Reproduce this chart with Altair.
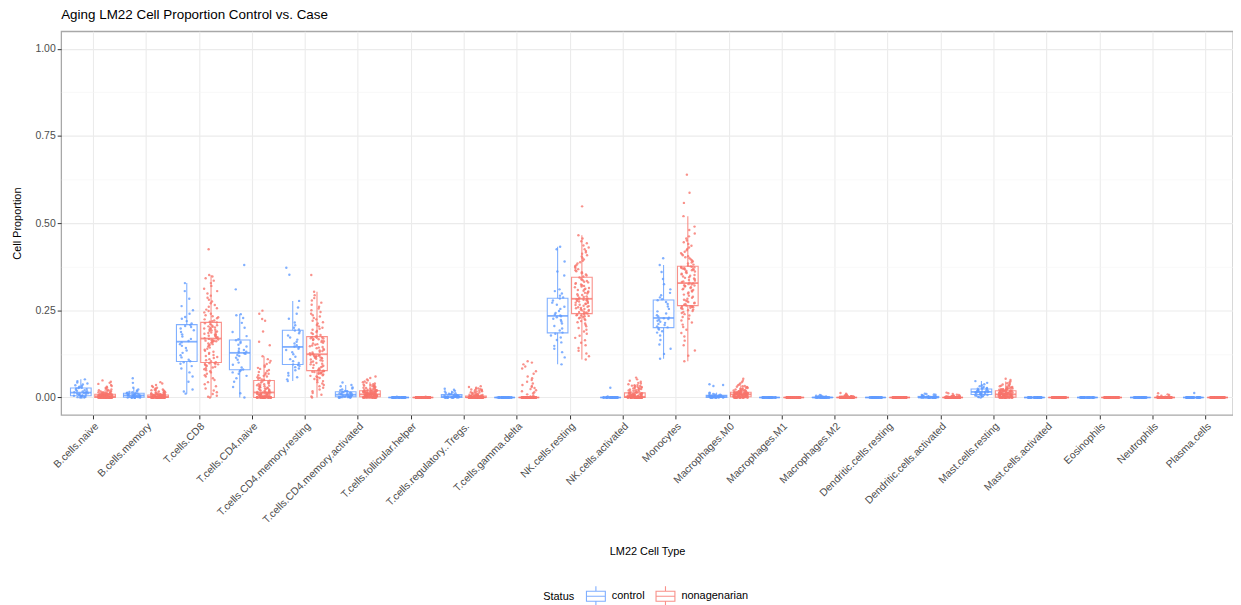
import altair as alt
import pandas as pd

# ---------------- data ----------------
cell_types = ["B.cells.naive", "B.cells.memory", "T.cells.CD8", "T.cells.CD4.naive",
              "T.cells.CD4.memory.resting", "T.cells.CD4.memory.activated",
              "T.cells.follicular.helper", "T.cells.regulatory..Tregs.", "T.cells.gamma.delta",
              "NK.cells.resting", "NK.cells.activated", "Monocytes", "Macrophages.M0",
              "Macrophages.M1", "Macrophages.M2", "Dendritic.cells.resting",
              "Dendritic.cells.activated", "Mast.cells.resting", "Mast.cells.activated",
              "Eosinophils", "Neutrophils", "Plasma.cells"]
statuses = ["control", "nonagenarian"]
status_colors = ["#619CFF", "#F8766D"]

# ---- control samples (40 per cell type) ----
ctl_b_naive = [0, 0, 0, 0.001, 0.002, 0.002, 0.003, 0.004, 0.004, 0.005,
               0.005, 0.006, 0.007, 0.008, 0.009, 0.010, 0.011, 0.012, 0.013, 0.014,
               0.014, 0.015, 0.017, 0.018, 0.019, 0.021, 0.022, 0.024, 0.026, 0.027,
               0.028, 0.029, 0.031, 0.033, 0.035, 0.037, 0.040, 0.043, 0.047, 0.052]
ctl_b_memory = [0.0] * 10 + [0.001, 0.001, 0.002, 0.003, 0.003, 0.004, 0.004, 0.005, 0.005, 0.006,
                             0.006, 0.007, 0.007, 0.008, 0.008, 0.009, 0.010, 0.010, 0.011, 0.012,
                             0.013, 0.014, 0.015, 0.016, 0.018, 0.020, 0.023, 0.028, 0.042, 0.055]
ctl_cd8 = [0.011, 0.017, 0.023, 0.045, 0.060, 0.072, 0.083, 0.090, 0.097, 0.101,
           0.104, 0.108, 0.115, 0.121, 0.128, 0.135, 0.142, 0.148, 0.153, 0.158,
           0.162, 0.168, 0.175, 0.181, 0.188, 0.193, 0.198, 0.202, 0.205, 0.208,
           0.212, 0.219, 0.226, 0.231, 0.240, 0.250, 0.262, 0.283, 0.305, 0.328]
ctl_cd4_naive = [0, 0.012, 0.030, 0.045, 0.055, 0.062, 0.068, 0.072, 0.075, 0.078,
                 0.080, 0.086, 0.094, 0.100, 0.108, 0.114, 0.119, 0.122, 0.125, 0.127,
                 0.129, 0.131, 0.133, 0.136, 0.140, 0.146, 0.151, 0.156, 0.160, 0.164,
                 0.167, 0.176, 0.188, 0.200, 0.214, 0.228, 0.236, 0.239, 0.310, 0.380]
ctl_cd4_mem_rest = [0.047, 0.052, 0.058, 0.063, 0.070, 0.078, 0.083, 0.087, 0.090, 0.093,
                    0.095, 0.099, 0.104, 0.110, 0.117, 0.124, 0.130, 0.136, 0.140, 0.144,
                    0.146, 0.150, 0.155, 0.160, 0.166, 0.172, 0.178, 0.184, 0.189, 0.192,
                    0.195, 0.200, 0.207, 0.215, 0.226, 0.240, 0.258, 0.277, 0.352, 0.372]
ctl_cd4_mem_act = [0, 0, 0, 0, 0, 0.001, 0.001, 0.001, 0.002, 0.002,
                   0.002, 0.003, 0.004, 0.004, 0.005, 0.005, 0.006, 0.006, 0.007, 0.008,
                   0.008, 0.009, 0.010, 0.011, 0.012, 0.012, 0.013, 0.014, 0.015, 0.016,
                   0.017, 0.018, 0.019, 0.021, 0.023, 0.026, 0.029, 0.032, 0.036, 0.043]
ctl_tfh = [0.0] * 38 + [0.001, 0.002]
ctl_tregs = [0.0] * 14 + [0.001, 0.001, 0.002, 0.002, 0.002, 0.003, 0.003, 0.003, 0.004, 0.004,
                          0.005, 0.005, 0.006, 0.006, 0.007, 0.008, 0.009, 0.010, 0.011, 0.012,
                          0.013, 0.015, 0.017, 0.019, 0.022, 0.025]
ctl_gd = [0.0] * 40
ctl_nk_rest = [0.095, 0.115, 0.130, 0.140, 0.148, 0.158, 0.165, 0.172, 0.178, 0.183,
               0.186, 0.192, 0.198, 0.205, 0.212, 0.218, 0.222, 0.226, 0.230, 0.233,
               0.235, 0.238, 0.242, 0.248, 0.254, 0.260, 0.266, 0.272, 0.278, 0.284,
               0.287, 0.292, 0.298, 0.305, 0.310, 0.350, 0.361, 0.390, 0.425, 0.432]
ctl_nk_act = [0.0] * 38 + [0.003, 0.028]
ctl_mono = [0.111, 0.125, 0.140, 0.152, 0.165, 0.178, 0.186, 0.190, 0.195, 0.198,
            0.201, 0.204, 0.208, 0.211, 0.214, 0.217, 0.220, 0.223, 0.225, 0.227,
            0.229, 0.232, 0.236, 0.241, 0.247, 0.254, 0.261, 0.268, 0.274, 0.279,
            0.282, 0.287, 0.293, 0.300, 0.310, 0.325, 0.340, 0.360, 0.380, 0.399]
ctl_m0 = [0.0] * 12 + [0.001, 0.001, 0.001, 0.002, 0.002, 0.002, 0.002, 0.003, 0.003, 0.003,
                       0.003, 0.004, 0.004, 0.004, 0.005, 0.005, 0.005, 0.006, 0.006, 0.007,
                       0.008, 0.009, 0.010, 0.012, 0.014, 0.033, 0.036, 0.038]
ctl_m1 = [0.0] * 40
ctl_m2 = [0.0] * 30 + [0.001, 0.001, 0.002, 0.002, 0.003, 0.003, 0.004, 0.005, 0.006, 0.007]
ctl_dc_rest = [0.0] * 40
ctl_dc_act = [0.0] * 24 + [0.001, 0.001, 0.002, 0.002, 0.002, 0.003, 0.003, 0.004,
                           0.004, 0.005, 0.006, 0.007, 0.008, 0.009, 0.010, 0.011]
ctl_mast_rest = [0, 0.001, 0.002, 0.003, 0.004, 0.005, 0.006, 0.007, 0.007, 0.008,
                 0.009, 0.010, 0.011, 0.012, 0.013, 0.013, 0.014, 0.015, 0.015, 0.016,
                 0.016, 0.017, 0.018, 0.018, 0.019, 0.020, 0.021, 0.022, 0.023, 0.024,
                 0.025, 0.026, 0.027, 0.028, 0.030, 0.032, 0.035, 0.038, 0.042, 0.047]
ctl_mast_act = [0.0] * 40
ctl_eos = [0.0] * 40
ctl_neut = [0.0] * 40
ctl_plasma = [0.0] * 39 + [0.013]

# ---- nonagenarian samples (120 per cell type) ----
non_b_naive = [0.0] * 45 + [0.001] * 5 + [0.002] * 5 + [0.003] * 5 + [
    0.003, 0.003, 0.004, 0.004, 0.004, 0.005, 0.005, 0.005, 0.005, 0.006,
    0.006, 0.006, 0.006, 0.007, 0.007, 0.007, 0.007, 0.008, 0.008, 0.008,
    0.008, 0.008, 0.009, 0.009, 0.009, 0.009, 0.009, 0.009, 0.009, 0.009,
    0.010, 0.010, 0.011, 0.011, 0.012, 0.012, 0.013, 0.013, 0.014, 0.014,
    0.015, 0.015, 0.016, 0.017, 0.018, 0.019, 0.020, 0.021, 0.022, 0.023,
    0.025, 0.027, 0.029, 0.031, 0.033, 0.036, 0.039, 0.042, 0.045, 0.049]
non_b_memory = [0.0] * 50 + [0.001] * 8 + [0.002] * 6 + [
    0.002, 0.003, 0.003, 0.003, 0.003, 0.004, 0.004, 0.004, 0.004, 0.005,
    0.005, 0.005, 0.005, 0.005, 0.006, 0.006, 0.006, 0.006, 0.006, 0.007,
    0.007, 0.007, 0.007, 0.007, 0.007, 0.007,
    0.008, 0.008, 0.009, 0.009, 0.010, 0.010, 0.011, 0.011, 0.012, 0.012,
    0.013, 0.013, 0.014, 0.015, 0.016, 0.017, 0.018, 0.019, 0.020, 0.021,
    0.022, 0.023, 0.024, 0.026, 0.028, 0.030, 0.033, 0.036, 0.040, 0.044]
non_cd8 = [0, 0.002, 0.005, 0.010, 0.015, 0.020, 0.026, 0.032, 0.038, 0.044,
           0.050, 0.055, 0.060, 0.064, 0.068, 0.072, 0.075, 0.078, 0.081, 0.084,
           0.086, 0.088, 0.090, 0.092, 0.093, 0.095, 0.096, 0.097, 0.098, 0.099,
           0.101, 0.104, 0.107, 0.110, 0.113, 0.116, 0.119, 0.122, 0.125, 0.128,
           0.131, 0.134, 0.137, 0.140, 0.143, 0.146, 0.149, 0.151, 0.153, 0.155,
           0.157, 0.159, 0.160, 0.161, 0.162, 0.163, 0.164, 0.165, 0.166, 0.168,
           0.170, 0.171, 0.173, 0.174, 0.176, 0.177, 0.179, 0.180, 0.182, 0.183,
           0.185, 0.186, 0.188, 0.189, 0.191, 0.192, 0.194, 0.195, 0.197, 0.198,
           0.200, 0.201, 0.203, 0.204, 0.206, 0.207, 0.209, 0.211, 0.213, 0.215,
           0.217, 0.219, 0.221, 0.224, 0.227, 0.230, 0.233, 0.236, 0.240, 0.244,
           0.248, 0.252, 0.256, 0.260, 0.265, 0.270, 0.275, 0.280, 0.286, 0.292,
           0.298, 0.305, 0.312, 0.320, 0.328, 0.335, 0.342, 0.347, 0.351, 0.425]
non_cd4_naive = [0.0] * 32 + [
    0.001, 0.001, 0.002, 0.002, 0.003, 0.003, 0.004, 0.004, 0.005, 0.005,
    0.006, 0.006, 0.007, 0.007, 0.008, 0.008, 0.009, 0.009, 0.010, 0.010,
    0.011, 0.011, 0.012, 0.012, 0.013, 0.013, 0.014, 0.014,
    0.015, 0.016, 0.017, 0.018, 0.019, 0.020, 0.021, 0.022, 0.023, 0.024,
    0.025, 0.026, 0.027, 0.028, 0.029, 0.030, 0.031, 0.032, 0.033, 0.034,
    0.035, 0.036, 0.038, 0.039, 0.040, 0.042, 0.043, 0.045, 0.046, 0.048,
    0.050, 0.052, 0.054, 0.056, 0.058, 0.060, 0.062, 0.064, 0.066, 0.068,
    0.070, 0.073, 0.076, 0.079, 0.082, 0.085, 0.088, 0.092, 0.096, 0.100,
    0.105, 0.110, 0.118, 0.150, 0.160, 0.189, 0.220, 0.225, 0.240, 0.249]
non_cd4_mem_rest = [0, 0.003, 0.008, 0.013, 0.018, 0.023, 0.028, 0.032, 0.036, 0.040,
                    0.044, 0.047, 0.050, 0.053, 0.056, 0.058, 0.060, 0.062, 0.064, 0.066,
                    0.068, 0.069, 0.070, 0.071, 0.072, 0.073, 0.074, 0.075, 0.076, 0.077,
                    0.077, 0.079, 0.081, 0.083, 0.085, 0.087, 0.089, 0.091, 0.093, 0.095,
                    0.097, 0.099, 0.101, 0.103, 0.105, 0.107, 0.109, 0.111, 0.112, 0.113,
                    0.114, 0.115, 0.116, 0.117, 0.118, 0.119, 0.120, 0.121, 0.122, 0.123,
                    0.125, 0.127, 0.129, 0.131, 0.133, 0.135, 0.137, 0.139, 0.141, 0.143,
                    0.145, 0.147, 0.149, 0.151, 0.153, 0.155, 0.157, 0.159, 0.161, 0.163,
                    0.165, 0.166, 0.167, 0.168, 0.169, 0.170, 0.171, 0.172, 0.173, 0.174,
                    0.176, 0.179, 0.182, 0.185, 0.188, 0.191, 0.194, 0.197, 0.200, 0.204,
                    0.208, 0.212, 0.216, 0.220, 0.224, 0.228, 0.232, 0.236, 0.240, 0.245,
                    0.250, 0.255, 0.260, 0.266, 0.272, 0.278, 0.285, 0.293, 0.303, 0.351]
non_cd4_mem_act = [0.0] * 20 + [0.001] * 6 + [0.002] * 4 + [
    0.002, 0.003, 0.003, 0.003, 0.004, 0.004, 0.004, 0.005, 0.005, 0.005,
    0.005, 0.006, 0.006, 0.006, 0.006, 0.007, 0.007, 0.007, 0.007, 0.007,
    0.008, 0.008, 0.008, 0.008, 0.008, 0.009, 0.009, 0.009, 0.009, 0.009,
    0.009, 0.010, 0.010, 0.010, 0.011, 0.011, 0.011, 0.012, 0.012, 0.012,
    0.013, 0.013, 0.013, 0.014, 0.014, 0.014, 0.015, 0.015, 0.015, 0.016,
    0.016, 0.016, 0.017, 0.017, 0.017, 0.018, 0.018, 0.018, 0.019, 0.019,
    0.020, 0.020, 0.021, 0.021, 0.022, 0.022, 0.023, 0.024, 0.025, 0.026,
    0.027, 0.028, 0.029, 0.030, 0.031, 0.032, 0.033, 0.034, 0.035, 0.036,
    0.037, 0.038, 0.040, 0.042, 0.044, 0.046, 0.049, 0.052, 0.056, 0.060]
non_tfh = [0.0] * 118 + [0.001, 0.002]
non_tregs = [0.0] * 60 + [0.001] * 10 + [0.002] * 8 + [0.003] * 6 + [0.004] * 6 + [
    0.005, 0.005, 0.006, 0.006, 0.007, 0.007, 0.008, 0.008, 0.009, 0.009,
    0.010, 0.011, 0.012, 0.013, 0.014, 0.015, 0.016, 0.017, 0.018, 0.019,
    0.020, 0.021, 0.022, 0.023, 0.024, 0.025, 0.026, 0.028, 0.030, 0.032]
non_gd = [0.0] * 96 + [0.003, 0.006, 0.009, 0.012, 0.015, 0.018, 0.021, 0.024, 0.027, 0.030,
                       0.033, 0.036, 0.040, 0.045, 0.050, 0.055, 0.060, 0.068, 0.075, 0.083,
                       0.089, 0.095, 0.100, 0.104]
non_nk_rest = [0.109, 0.118, 0.126, 0.134, 0.142, 0.150, 0.157, 0.164, 0.171, 0.177,
               0.183, 0.189, 0.194, 0.199, 0.204, 0.208, 0.212, 0.216, 0.219, 0.222,
               0.225, 0.227, 0.229, 0.231, 0.233, 0.234, 0.235, 0.236, 0.237, 0.239,
               0.241, 0.242, 0.244, 0.245, 0.247, 0.248, 0.250, 0.251, 0.253, 0.254,
               0.256, 0.257, 0.259, 0.260, 0.262, 0.263, 0.265, 0.266, 0.268, 0.269,
               0.271, 0.272, 0.274, 0.275, 0.277, 0.278, 0.279, 0.280, 0.281, 0.282,
               0.284, 0.286, 0.288, 0.290, 0.292, 0.294, 0.296, 0.298, 0.300, 0.302,
               0.304, 0.306, 0.308, 0.310, 0.312, 0.314, 0.316, 0.318, 0.320, 0.322,
               0.324, 0.326, 0.328, 0.330, 0.332, 0.334, 0.336, 0.338, 0.341, 0.344,
               0.347, 0.350, 0.353, 0.356, 0.359, 0.362, 0.365, 0.368, 0.371, 0.374,
               0.377, 0.380, 0.384, 0.388, 0.392, 0.396, 0.400, 0.404, 0.408, 0.412,
               0.416, 0.420, 0.425, 0.430, 0.436, 0.442, 0.448, 0.456, 0.465, 0.548]
non_nk_act = [0.0] * 45 + [0.001] * 8 + [0.002] * 7 + [
    0.002, 0.003, 0.003, 0.003, 0.004, 0.004, 0.004, 0.005, 0.005, 0.005,
    0.006, 0.006, 0.006, 0.007, 0.007, 0.007, 0.008, 0.008, 0.008, 0.009,
    0.009, 0.009, 0.010, 0.010, 0.011, 0.011, 0.012, 0.012, 0.013, 0.013,
    0.014, 0.015, 0.016, 0.017, 0.018, 0.019, 0.020, 0.021, 0.022, 0.023,
    0.024, 0.025, 0.026, 0.027, 0.028, 0.029, 0.030, 0.031, 0.032, 0.033,
    0.034, 0.035, 0.036, 0.038, 0.040, 0.042, 0.045, 0.048, 0.052, 0.057]
non_mono = [0.104, 0.120, 0.135, 0.150, 0.163, 0.175, 0.185, 0.194, 0.202, 0.209,
            0.215, 0.221, 0.226, 0.231, 0.235, 0.239, 0.242, 0.245, 0.248, 0.250,
            0.252, 0.254, 0.256, 0.257, 0.258, 0.259, 0.260, 0.261, 0.262, 0.262,
            0.264, 0.266, 0.268, 0.270, 0.272, 0.274, 0.276, 0.278, 0.280, 0.283,
            0.286, 0.289, 0.292, 0.295, 0.298, 0.301, 0.304, 0.306, 0.308, 0.310,
            0.312, 0.314, 0.316, 0.318, 0.320, 0.321, 0.322, 0.324, 0.325, 0.327,
            0.329, 0.331, 0.333, 0.335, 0.337, 0.339, 0.341, 0.343, 0.345, 0.347,
            0.349, 0.351, 0.353, 0.355, 0.357, 0.359, 0.361, 0.363, 0.365, 0.366,
            0.367, 0.368, 0.369, 0.370, 0.371, 0.372, 0.373, 0.374, 0.375, 0.376,
            0.378, 0.381, 0.384, 0.387, 0.390, 0.393, 0.396, 0.399, 0.402, 0.405,
            0.408, 0.411, 0.414, 0.418, 0.422, 0.426, 0.430, 0.435, 0.440, 0.445,
            0.450, 0.456, 0.462, 0.470, 0.480, 0.490, 0.520, 0.558, 0.587, 0.639]
non_m0 = [0.0] * 20 + [0.001] * 5 + [0.002] * 5 + [
    0.002, 0.003, 0.003, 0.003, 0.004, 0.004, 0.004, 0.004, 0.005, 0.005,
    0.005, 0.005, 0.006, 0.006, 0.006, 0.006, 0.007, 0.007, 0.007, 0.007,
    0.007, 0.008, 0.008, 0.008, 0.008, 0.008, 0.009, 0.009, 0.009, 0.009,
    0.009, 0.010, 0.010, 0.010, 0.010, 0.010, 0.011, 0.011, 0.011, 0.011,
    0.012, 0.012, 0.012, 0.012, 0.012, 0.013, 0.013, 0.013, 0.013, 0.013,
    0.014, 0.014, 0.014, 0.014, 0.014, 0.015, 0.015, 0.015, 0.015, 0.015,
    0.016, 0.016, 0.017, 0.017, 0.018, 0.018, 0.019, 0.019, 0.020, 0.020,
    0.021, 0.021, 0.022, 0.023, 0.024, 0.025, 0.026, 0.027, 0.028, 0.029,
    0.030, 0.031, 0.032, 0.033, 0.035, 0.037, 0.040, 0.044, 0.048, 0.054]
non_m1 = [0.0] * 120
non_m2 = [0.0] * 95 + [0.001] * 6 + [0.002] * 5 + [0.003] * 4 + [0.004] * 3 + [
    0.005, 0.005, 0.006, 0.007, 0.009, 0.011, 0.013]
non_dc_rest = [0.0] * 120
non_dc_act = [0.0] * 95 + [0.001] * 6 + [0.002] * 5 + [0.003] * 4 + [0.004] * 3 + [
    0.005, 0.006, 0.007, 0.008, 0.010, 0.012, 0.014]
non_mast_rest = [0.0] * 25 + [0.001] * 5 + [
    0.001, 0.002, 0.002, 0.002, 0.003, 0.003, 0.003, 0.004, 0.004, 0.004,
    0.005, 0.005, 0.005, 0.006, 0.006, 0.006, 0.007, 0.007, 0.007, 0.007,
    0.008, 0.008, 0.008, 0.008, 0.008, 0.009, 0.009, 0.009, 0.009, 0.009,
    0.009, 0.010, 0.010, 0.010, 0.011, 0.011, 0.011, 0.012, 0.012, 0.012,
    0.013, 0.013, 0.013, 0.014, 0.014, 0.014, 0.015, 0.015, 0.015, 0.016,
    0.016, 0.016, 0.017, 0.017, 0.017, 0.018, 0.018, 0.018, 0.019, 0.019,
    0.020, 0.020, 0.021, 0.021, 0.022, 0.022, 0.023, 0.023, 0.024, 0.024,
    0.025, 0.025, 0.026, 0.026, 0.027, 0.028, 0.029, 0.030, 0.031, 0.032,
    0.033, 0.034, 0.035, 0.037, 0.039, 0.041, 0.043, 0.046, 0.050, 0.054]
non_mast_act = [0.0] * 120
non_eos = [0.0] * 120
non_neut = [0.0] * 112 + [0.001, 0.002, 0.003, 0.004, 0.005, 0.007, 0.009, 0.012]
non_plasma = [0.0] * 120

control_lists = [ctl_b_naive, ctl_b_memory, ctl_cd8, ctl_cd4_naive, ctl_cd4_mem_rest,
                 ctl_cd4_mem_act, ctl_tfh, ctl_tregs, ctl_gd, ctl_nk_rest, ctl_nk_act,
                 ctl_mono, ctl_m0, ctl_m1, ctl_m2, ctl_dc_rest, ctl_dc_act, ctl_mast_rest,
                 ctl_mast_act, ctl_eos, ctl_neut, ctl_plasma]
nonag_lists = [non_b_naive, non_b_memory, non_cd8, non_cd4_naive, non_cd4_mem_rest,
               non_cd4_mem_act, non_tfh, non_tregs, non_gd, non_nk_rest, non_nk_act,
               non_mono, non_m0, non_m1, non_m2, non_dc_rest, non_dc_act, non_mast_rest,
               non_mast_act, non_eos, non_neut, non_plasma]

rows = []
for i, cell in enumerate(cell_types):
    for status, lists in zip(statuses, [control_lists, nonag_lists]):
        for v in lists[i]:
            rows.append({"cell_idx": i + 1, "cell": cell, "status": status, "value": float(v)})
df = pd.DataFrame(rows)

# ---------------- styling ----------------
FONT = "Liberation Sans"
DODGE = 0.229
HALF_BOX = 0.195
JITTER = 0.27

labels_js = "[" + ",".join("'" + c + "'" for c in cell_types) + "]"

x_scale = alt.Scale(domain=[0.4, 22.52], nice=False, zero=False)
y_scale = alt.Scale(domain=[-0.05, 1.05], nice=False, zero=False)

x_axis = alt.Axis(values=list(range(1, len(cell_types) + 1)),
                  labelExpr=labels_js + "[datum.value - 1]",
                  labelAngle=-45, labelAlign="right", labelBaseline="top",
                  labelOverlap=False, labelBound=False, labelFlush=False,
                  labelFontSize=10.5, labelColor="#4d4d4d", labelPadding=2,
                  tickColor="#333333", tickSize=4, tickWidth=1,
                  gridColor="#ebebeb", gridWidth=1.1, domain=False,
                  title="LM22 Cell Type", titleFontSize=11, titleFontWeight="normal",
                  titleColor="black", titlePadding=20)
minor = "(datum.value * 8) % 2 == 1"
y_axis = alt.Axis(values=[0, 0.125, 0.25, 0.375, 0.5, 0.625, 0.75, 0.875, 1.0],
                  labelExpr=minor + " ? '' : format(datum.value, '.2f')",
                  labelOverlap=False,
                  gridColor={"condition": {"test": minor, "value": "#f5f5f5"}, "value": "#ebebeb"},
                  gridWidth={"condition": {"test": minor, "value": 0.6}, "value": 1.1},
                  tickOpacity={"condition": {"test": minor, "value": 0}, "value": 1},
                  tickColor="#333333", tickSize=4, tickWidth=1,
                  labelFontSize=10.5, labelColor="#4d4d4d", labelPadding=2,
                  domain=False, title="Cell Proportion", titleFontSize=11,
                  titleFontWeight="normal", titleColor="black", titlePadding=12)

legend = alt.Legend(title="Status", orient="none", legendX=485, legendY=557,
                    direction="horizontal", titleOrient="left",
                    symbolType="M-0.95,-0.5H0.95V0.5H-0.95Z M-0.95,0H0.95 M0,-0.5V-1 M0,0.5V1",
                    symbolSize=400, symbolFillColor="transparent", symbolStrokeWidth=1.1,
                    symbolOpacity=0.8, labelFontSize=11, labelColor="black",
                    titleFontSize=11, titleFontWeight="normal", titleColor="black",
                    titlePadding=10, columnPadding=8, labelOffset=5)

# stroke scale: explicit domain (carries the legend);
# colour scale: data-driven domain (sorted, same order) so the two legends stay apart
stroke_scale = alt.Scale(domain=statuses, range=status_colors)
color_scale = alt.Scale(range=status_colors)
color_enc = alt.Color("status:N", scale=color_scale, legend=None)

base = alt.Chart(df)

stats = base.transform_joinaggregate(
    q1="q1(value)", q3="q3(value)", med="median(value)", groupby=["cell_idx", "status"]
).transform_calculate(
    inside="datum.value >= datum.q1 - 1.5 * (datum.q3 - datum.q1) && "
           "datum.value <= datum.q3 + 1.5 * (datum.q3 - datum.q1) ? datum.value : null"
).transform_aggregate(
    q1="min(q1)", q3="min(q3)", med="min(med)", lo="min(inside)", hi="max(inside)",
    groupby=["cell_idx", "status"]
).transform_calculate(
    xc=f"datum.cell_idx + (datum.status == 'control' ? {-DODGE} : {DODGE})"
).transform_calculate(
    xl=f"datum.xc - {HALF_BOX}", xr=f"datum.xc + {HALF_BOX}"
)

whisker = stats.mark_rule(strokeWidth=1.1, opacity=0.8).encode(
    x=alt.X("xc:Q", scale=x_scale, axis=x_axis),
    y=alt.Y("lo:Q", scale=y_scale, axis=y_axis),
    y2="hi:Q",
    stroke=alt.Stroke("status:N", scale=stroke_scale, legend=legend, title="Status"),
)
box_fill = stats.mark_rect(fill="white", strokeWidth=0).encode(
    x=alt.X("xl:Q", scale=x_scale, axis=x_axis),
    x2="xr:Q",
    y=alt.Y("q1:Q", scale=y_scale, axis=y_axis),
    y2="q3:Q",
)
box = stats.mark_rect(filled=False, strokeWidth=1.1, opacity=0.8).encode(
    x=alt.X("xl:Q", scale=x_scale, axis=x_axis),
    x2="xr:Q",
    y=alt.Y("q1:Q", scale=y_scale, axis=y_axis),
    y2="q3:Q",
    color=color_enc,
)
median = stats.mark_rule(strokeWidth=1.8, opacity=0.8).encode(
    x=alt.X("xl:Q", scale=x_scale, axis=x_axis),
    x2="xr:Q",
    y=alt.Y("med:Q", scale=y_scale, axis=y_axis),
    color=color_enc,
)
points = base.transform_window(
    rn="row_number()", groupby=["cell_idx", "status"]
).transform_calculate(
    h="(sin(datum.rn * 12.9898 + datum.cell_idx * 78.233) * 43758.5453) % 1"
).transform_calculate(
    xj=f"datum.cell_idx + (datum.status == 'control' ? {-DODGE} : {DODGE})"
       f" + ((datum.h + 1) % 1 - 0.5) * {JITTER}"
).mark_circle(size=6, opacity=0.8).encode(
    x=alt.X("xj:Q", scale=x_scale, axis=x_axis),
    y=alt.Y("value:Q", scale=y_scale, axis=y_axis),
    color=color_enc,
)

chart = alt.layer(whisker, box_fill, box, median, points).properties(
    width=1179, height=386,
    autosize=alt.AutoSizeParams(type="none"),
    padding={"left": 53.5, "top": 21.6, "right": 0, "bottom": 189},
    title=alt.Title("Aging LM22 Cell Proportion Control vs. Case", anchor="start",
                    frame="group", fontSize=13.5, fontWeight="normal", color="black",
                    font=FONT, offset=10),
).configure(font=FONT).configure_view(stroke="#a8a8a8", strokeWidth=1.3)

chart.save("out.html", embed_options={"renderer": "svg", "actions": False})
